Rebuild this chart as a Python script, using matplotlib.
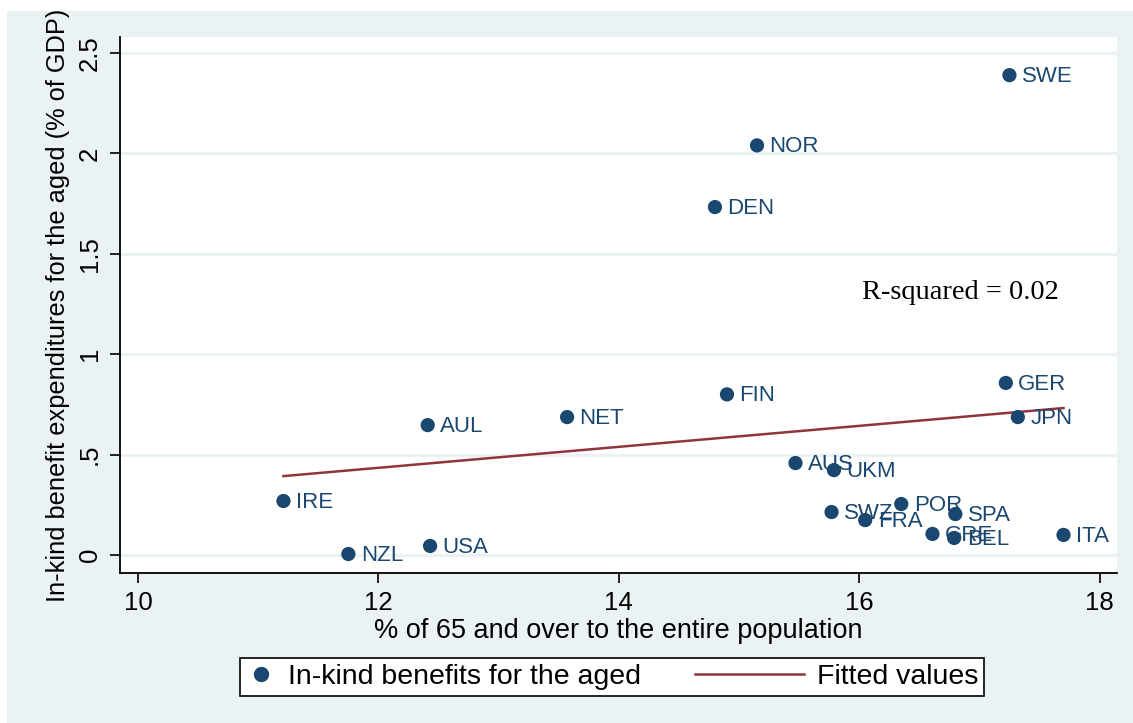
import matplotlib
matplotlib.use("Agg")
import matplotlib.pyplot as plt
from matplotlib.patches import Rectangle
from matplotlib.lines import Line2D
from matplotlib.legend_handler import HandlerBase

plt.rcParams['font.family'] = ['Liberation Sans', 'DejaVu Sans']

countries = ["SWE", "NOR", "DEN", "GER", "JPN", "FIN", "NET", "AUL", "AUS", "UKM",
             "IRE", "POR", "SPA", "SWZ", "FRA", "GRE", "BEL", "ITA", "NZL", "USA"]
pct_65_over = [17.25, 15.15, 14.80, 17.22, 17.32, 14.90, 13.57, 12.41, 15.47, 15.79,
               11.21, 16.35, 16.80, 15.77, 16.05, 16.61, 16.79, 17.70, 11.75, 12.43]
inkind_gdp = [2.39, 2.04, 1.733, 0.857, 0.687, 0.80, 0.687, 0.647, 0.458, 0.423,
              0.269, 0.254, 0.204, 0.214, 0.174, 0.105, 0.085, 0.10, 0.005, 0.045]

fit_x = [11.21, 17.70]
fit_y = [0.393, 0.732]

x_ticks = [10, 12, 14, 16, 18]
y_ticks = [0, 0.5, 1, 1.5, 2, 2.5]
y_ticklabels = ["0", ".5", "1", "1.5", "2", "2.5"]

navy = "#1a476f"
maroon = "#90353b"
panel = "#eaf2f3"

W, H = 1133, 723
fig = plt.figure(figsize=(W / 100, H / 100), dpi=100)
fig.patch.set_facecolor("white")
fig.patches.append(Rectangle((7 / W, 0), 1 - 7 / W, 1 - 11 / H, transform=fig.transFigure,
                             facecolor=panel, edgecolor="none", zorder=-5))

ax = fig.add_axes([120 / W, 1 - 573 / H, (1117 - 120) / W, (573 - 37) / H])
ax.set_zorder(1)
ax.set_facecolor("white")
ax.set_xlim(9.850, 18.145)
ax.set_ylim(-0.0896, 2.580)

for yv in y_ticks:
    ax.axhline(yv, color=panel, lw=2.2, zorder=1)

ax.plot(fit_x, fit_y, color=maroon, lw=1.8, zorder=3)
ax.scatter(pct_65_over, inkind_gdp, s=105, color=navy, edgecolors="none", zorder=4)
for c, xv, yv in zip(countries, pct_65_over, inkind_gdp):
    ax.annotate(c, (xv, yv), xytext=(9, -1), textcoords="offset points",
                va="center", ha="left", fontsize=16, color=navy, zorder=5)

ax.text(16.02, 1.305, "R-squared = 0.02", family="Liberation Serif", fontsize=20.5,
        va="center", ha="left", color="black")

for s in ["top", "right"]:
    ax.spines[s].set_visible(False)
for s in ["left", "bottom"]:
    ax.spines[s].set_linewidth(1.3)
    ax.spines[s].set_color("black")

ax.set_xticks(x_ticks)
ax.set_xticklabels([str(t) for t in x_ticks])
ax.set_yticks(y_ticks)
ax.set_yticklabels(y_ticklabels, rotation=90, va="center")
ax.tick_params(axis="both", direction="out", length=7, width=1.2, labelsize=18.5, pad=6,
               colors="black")

ax.set_xlabel("% of 65 and over to the entire population", fontsize=19.5, labelpad=2)
ax.set_ylabel("In-kind benefit expenditures for the aged (% of GDP)", fontsize=18.3,
              labelpad=6)


class LongLineHandler(HandlerBase):
    def create_artists(self, legend, orig_handle, xdescent, ydescent, width, height,
                       fontsize, trans):
        y = height / 2 - ydescent
        length = 3.82 * fontsize
        ln = Line2D([width - length, width], [y, y], color=orig_handle.get_color(),
                    lw=orig_handle.get_linewidth(), transform=trans)
        return [ln]


handles = [
    Line2D([], [], marker="o", color=navy, linestyle="none", markersize=10),
    Line2D([], [], color=maroon, lw=1.8),
]
leg = fig.legend(handles, ["In-kind benefits for the aged", "Fitted values"],
                 loc="center left", bbox_to_anchor=(240 / W, 1 - 677 / H),
                 ncol=2, fontsize=20.5, frameon=True, fancybox=False, edgecolor="black",
                 facecolor="white", framealpha=1, handlelength=1.0, columnspacing=4.73,
                 handletextpad=0.45, borderpad=0.22, borderaxespad=0,
                 handler_map={handles[1]: LongLineHandler()})
leg.get_frame().set_linewidth(1.2)

fig.savefig("out.png", dpi=100, facecolor=fig.get_facecolor())
